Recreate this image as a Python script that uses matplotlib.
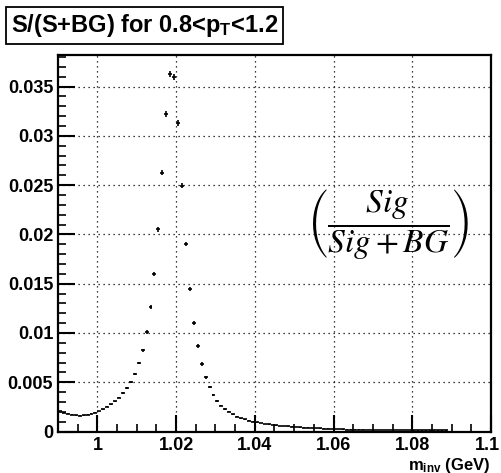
import numpy as np
import matplotlib
matplotlib.use("Agg")
import matplotlib.pyplot as plt
import matplotlib.transforms as mtransforms
from matplotlib.ticker import MultipleLocator, FixedLocator

# ---- data ----
bin_low = 0.990
bin_width = 0.001

ratio_low = [0.00205, 0.00190, 0.00180, 0.00170, 0.00164, 0.00162, 0.00165, 0.00171,
             0.00180, 0.00192, 0.00208, 0.00225, 0.00250, 0.00276, 0.00308, 0.00345,
             0.00390, 0.00440, 0.00500, 0.00585, 0.00695, 0.00825]
ratio_peak = [0.01007, 0.01261, 0.01599, 0.02052, 0.02624, 0.03223, 0.03629, 0.03601,
              0.03131, 0.02492, 0.01903, 0.01443, 0.01104, 0.00868]
ratio_tail1 = [0.00685, 0.00550, 0.00449, 0.00370, 0.00310, 0.00262, 0.00228, 0.00201,
               0.00175, 0.00150, 0.00134]
ratio_tail2 = [0.00122, 0.00110, 0.00100, 0.00092, 0.00085, 0.00078, 0.00072, 0.00067,
               0.00062, 0.00058, 0.00054, 0.00051, 0.00048, 0.00045, 0.00043, 0.00040,
               0.00038, 0.00036, 0.00034, 0.00032, 0.00030, 0.00028, 0.00026, 0.00025,
               0.00024, 0.00022, 0.00020, 0.00019, 0.00019, 0.00018, 0.00018, 0.00017,
               0.00017, 0.00016, 0.00016, 0.00016, 0.00015, 0.00015, 0.00015, 0.00014,
               0.00014, 0.00014, 0.00014, 0.00013, 0.00013, 0.00013, 0.00013, 0.00012,
               0.00012, 0.00012, 0.00012, 0.00011]

err_low = [0.00004] * 14 + [0.00006, 0.00007, 0.00008, 0.00009, 0.00010, 0.00012, 0.00014, 0.00016]
err_peak = [0.00018, 0.00020, 0.00022, 0.00024, 0.00026, 0.00028, 0.00030, 0.00030,
            0.00028, 0.00026, 0.00024, 0.00022, 0.00020, 0.00018]
err_tail1 = [0.00016, 0.00014, 0.00012, 0.00010, 0.00009, 0.00008, 0.00007, 0.00006,
             0.00005, 0.00005, 0.00004]
err_tail2 = [0.00003] * 52

x_ticks = [1.0, 1.02, 1.04, 1.06, 1.08, 1.1]
x_ticklabels = ["1", "1.02", "1.04", "1.06", "1.08", "1.1"]
y_ticks = [0, 0.005, 0.01, 0.015, 0.02, 0.025, 0.03, 0.035]
y_ticklabels = ["0", "0.005", "0.01", "0.015", "0.02", "0.025", "0.03", "0.035"]

title_text = r"S/(S+BG) for 0.8<p$_{\mathbf{T}}$<1.2"
formula_text = r"$\left(\dfrac{Sig}{Sig+BG}\right)$"
xlabel_text = r"m$_{\mathbf{inv}}$ (GeV)"

values = ratio_low + ratio_peak + ratio_tail1 + ratio_tail2
errors = err_low + err_peak + err_tail1 + err_tail2
n = len(values)
centers = bin_low + bin_width * (np.arange(n) + 0.5)

# ---- plot ----
plt.rcParams['font.family'] = ['Liberation Sans', 'DejaVu Sans']
plt.rcParams['font.weight'] = 'normal'
plt.rcParams['mathtext.fontset'] = 'custom'
plt.rcParams['mathtext.rm'] = 'Liberation Sans'
plt.rcParams['mathtext.it'] = 'Liberation Sans:italic'
plt.rcParams['mathtext.bf'] = 'Liberation Sans:bold'

fig = plt.figure(figsize=(5.01, 4.73), dpi=100)
ax = fig.add_axes([0.1158, 0.0877, 0.8642, 0.796])

ax.errorbar(centers, values, xerr=bin_width / 2, yerr=errors, fmt='none',
            ecolor='black', elinewidth=1.2, capsize=0)

ax.set_xlim(0.99, 1.1)
ax.set_ylim(0, 0.0382)

ax.xaxis.set_major_locator(FixedLocator(x_ticks))
ax.set_xticklabels(x_ticklabels)
ax.xaxis.set_minor_locator(MultipleLocator(0.005))
ax.yaxis.set_major_locator(FixedLocator(y_ticks))
ax.set_yticklabels(y_ticklabels)
ax.yaxis.set_minor_locator(MultipleLocator(0.001))

ax.tick_params(which='major', direction='in', length=12, width=1.5, labelsize=13,
               top=False, right=False)
ax.tick_params(axis='x', which='major', pad=4)
ax.tick_params(which='minor', direction='in', length=6, width=1.2, top=False, right=False)
for lab in ax.get_xticklabels() + ax.get_yticklabels():
    lab.set_fontweight('bold')
last = ax.get_xticklabels()[-1]
last.set_transform(last.get_transform() +
                   mtransforms.ScaledTranslation(-4 / 100, 0, fig.dpi_scale_trans))

ax.grid(True, which='major', linestyle=(0, (1, 3)), color='black', linewidth=0.9)
for s in ax.spines.values():
    s.set_linewidth(1.6)

ax.text(0.998, -0.101, xlabel_text, transform=ax.transAxes, ha='right',
        va='baseline', fontsize=12, fontweight='bold')

ax.text(0.762, 0.551, formula_text, transform=ax.transAxes, ha='center', va='center',
        fontsize=24, fontweight='normal', math_fontfamily='stix')

fig.text(0.022, 0.946, title_text, ha='left', va='center',
         fontsize=17, fontweight='bold',
         bbox=dict(boxstyle='square,pad=0.2', facecolor='white', edgecolor='black', linewidth=1.3))

fig.savefig('out.png', dpi=100)
